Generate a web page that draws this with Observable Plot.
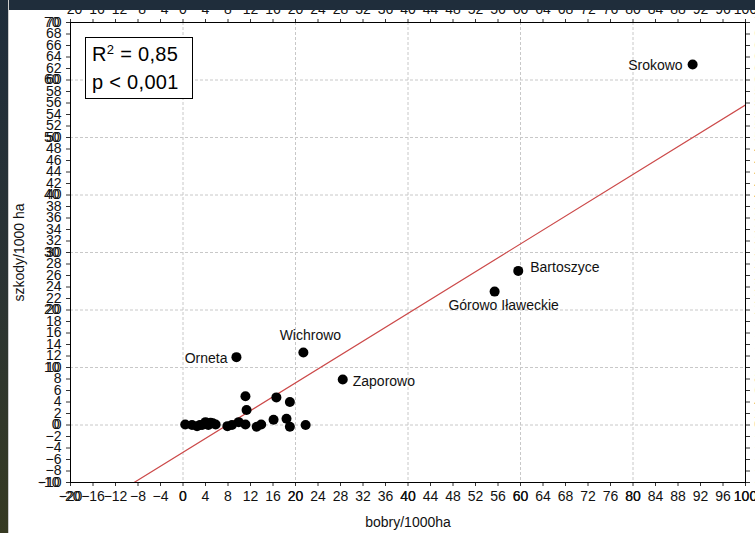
<!DOCTYPE html>
<html>
<head>
<meta charset="utf-8">
<script src="https://cdn.jsdelivr.net/npm/d3@7"></script>
<script src="https://cdn.jsdelivr.net/npm/@observablehq/plot@0.6"></script>
<style>
  html, body { margin: 0; padding: 0; background: #ffffff; }
  #wrap { position: relative; width: 755px; height: 533px; overflow: hidden; background: #fff; }
  #topbar { position: absolute; left: 0; top: 0; width: 755px; height: 10px; background: #1f2d3b; }
  #leftbar { position: absolute; left: 0; top: 0; width: 8px; height: 533px; background: linear-gradient(#1f2d3b, #2a3334 50%, #363a22); border-right: 1px solid #ccc; }
  #stats { position: absolute; left: 85px; top: 37px; width: 108px; height: 62px; border: 1px solid #000; background: #fff;
           font-family: "Liberation Sans", Arial, sans-serif; font-size: 20px; line-height: 28px; padding: 2px 0 0 6px; box-sizing: border-box; color: #000; letter-spacing: 0.3px; }
  #stats sup { font-size: 13px; vertical-align: 7px; line-height: 0; }
</style>
</head>
<body>
<div id="wrap">
  <div id="chart"></div>
  <div id="topbar"></div>
  <div id="leftbar"></div>
  <div id="stats">R<sup>2</sup> = 0,85<br>p &lt; 0,001</div>
</div>
<script>
// Data
const bobry  = [0.4, 1.6, 2.5, 3.0, 3.4, 4.0, 4.5, 4.9, 5.3, 5.8, 7.9, 8.7, 9.9, 11.1, 11.3, 11.1, 13.1, 13.9, 16.1, 16.6, 18.4, 19.0, 19.0, 21.8, 9.5, 21.4, 28.4, 55.4, 59.6, 90.6];
const szkody = [0.1, 0.0, -0.2, 0.0, 0.0, 0.5, 0.0, 0.4, 0.3, 0.1, -0.2, 0.0, 0.5, 0.1, 2.6, 5.0, -0.3, 0.1, 0.9, 4.8, 1.1, 4.0, -0.3, 0.0, 11.8, 12.6, 7.9, 23.2, 26.8, 62.7];

const labelNames = ["Orneta", "Wichrowo", "Zaporowo", "Górowo Iławeckie", "Bartoszyce", "Srokowo"];
const labelX     = [9.5, 21.4, 28.4, 55.4, 59.6, 90.6];
const labelY     = [11.8, 12.6, 7.9, 23.2, 26.8, 62.7];

const xDomain = [-20, 100];
const yDomain = [-10, 70];
const xMajor = [-20, 0, 20, 40, 60, 80, 100];
const yMajor = [-10, 0, 10, 20, 30, 40, 50, 60, 70];
const xMinor = [-20,-16,-12,-8,-4,0,4,8,12,16,20,24,28,32,36,40,44,48,52,56,60,64,68,72,76,80,84,88,92,96,100];
const yMinor = [-10,-8,-6,-4,-2,0,2,4,6,8,10,12,14,16,18,20,22,24,26,28,30,32,34,36,38,40,42,44,46,48,50,52,54,56,58,60,62,64,66,68,70];

// Regression line (slope, intercept)
const regSlope = 0.604;
const regIntercept = -4.75;
const regX = [-20, 100];

const points = bobry.map((b, i) => ({x: b, y: szkody[i]}));
const labels = labelNames.map((n, i) => ({name: n, x: labelX[i], y: labelY[i]}));
const reg = regX.map(x => ({x, y: regIntercept + regSlope * x}));

const lab = (name) => labels.filter(d => d.name === name);
const font = {fontSize: 14, fill: "#111", letterSpacing: "1px"};
const fmt = d => String(d);

const chart = Plot.plot({
  width: 755,
  height: 533,
  marginLeft: 70,
  marginRight: 10,
  marginTop: 22,
  marginBottom: 51,
  style: {fontFamily: "'Liberation Sans', Arial, sans-serif", fontSize: "14px", background: "#fff", color: "#111"},
  x: {domain: xDomain},
  y: {domain: yDomain},
  marks: [
    Plot.gridX(xMajor, {stroke: "#c8c8c8", strokeOpacity: 1, strokeDasharray: "3,2"}),
    Plot.gridY(yMajor, {stroke: "#c8c8c8", strokeOpacity: 1, strokeDasharray: "3,2"}),
    Plot.axisX(xMajor, {tickSize: 0, tickPadding: 9, fontSize: 14, letterSpacing: "1px", tickFormat: fmt, label: "bobry/1000ha", labelAnchor: "center", labelOffset: 44, labelArrow: "none"}),
    Plot.axisY(yMajor, {tickSize: 0, tickPadding: 11, fontSize: 14, letterSpacing: "1px", tickFormat: fmt, label: "szkody/1000 ha", labelAnchor: "center", labelOffset: 56, labelArrow: "none"}),
    // minor tick marks along the four frame edges (default outward axis ticks, small)
    Plot.axisX(xMinor, {anchor: "bottom", tickSize: 4, tickFormat: null, label: null, stroke: "#333"}),
    Plot.axisX(xMinor, {anchor: "top", tickSize: 4, tickFormat: null, label: null, stroke: "#333"}),
    Plot.axisY(yMinor, {anchor: "left", tickSize: 4, tickFormat: null, label: null, stroke: "#333"}),
    Plot.axisY(yMinor, {anchor: "right", tickSize: 4, tickFormat: null, label: null, stroke: "#333"}),
    Plot.line(reg, {x: "x", y: "y", stroke: "#cc4a4a", strokeWidth: 1.2, clip: true}),
    Plot.frame({stroke: "#000", strokeWidth: 1}),
    Plot.dot(points, {x: "x", y: "y", r: 5, fill: "#000"}),
    Plot.text(lab("Srokowo"), {x: "x", y: "y", text: "name", textAnchor: "end", dx: -10, dy: 1, ...font}),
    Plot.text(lab("Bartoszyce"), {x: "x", y: "y", text: "name", textAnchor: "start", dx: 12, dy: -3, ...font}),
    Plot.text(lab("Górowo Iławeckie"), {x: "x", y: "y", text: "name", textAnchor: "middle", dx: 9, dy: 14, ...font}),
    Plot.text(lab("Zaporowo"), {x: "x", y: "y", text: "name", textAnchor: "start", dx: 10, dy: 2, ...font}),
    Plot.text(lab("Wichrowo"), {x: "x", y: "y", text: "name", textAnchor: "middle", dx: 7, dy: -17, ...font}),
    Plot.text(lab("Orneta"), {x: "x", y: "y", text: "name", textAnchor: "end", dx: -9, dy: 1, ...font})
  ]
});
document.getElementById("chart").appendChild(chart);
</script>
</body>
</html>
